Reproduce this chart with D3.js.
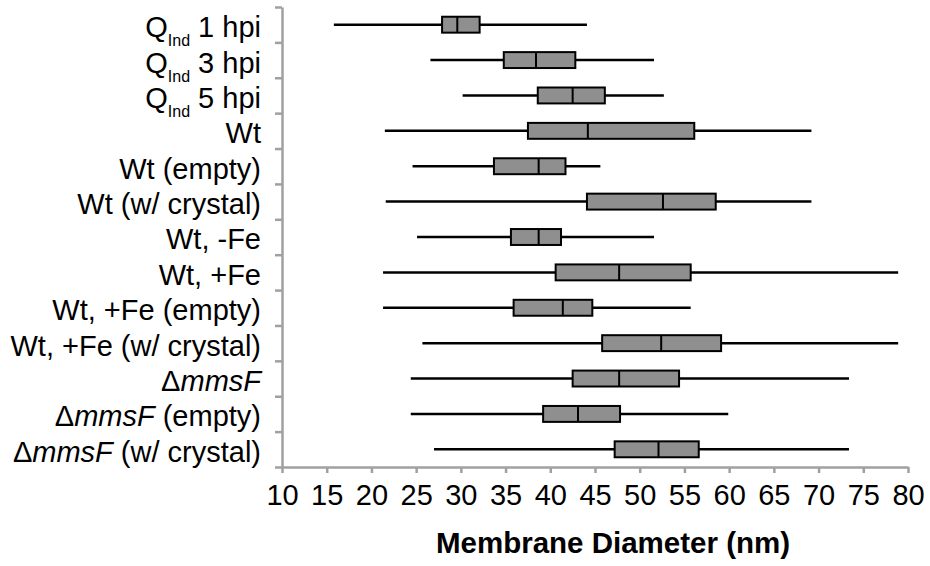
<!DOCTYPE html>
<html>
<head>
<meta charset="utf-8">
<script src="https://cdn.jsdelivr.net/npm/d3@7"></script>
<style>
  body { margin: 0; background: #fff; }
  text { font-family: "Liberation Sans", Arial, Helvetica, sans-serif; white-space: pre; }
</style>
</head>
<body>
<div id="chart"></div>
<script>
// Box plot data (nm)
// "_{..}" = subscript, "*..*" = italic
var categories = [
  "Q_{Ind} 1 hpi", "Q_{Ind} 3 hpi", "Q_{Ind} 5 hpi", "Wt", "Wt (empty)", "Wt (w/ crystal)",
  "Wt, -Fe", "Wt, +Fe", "Wt, +Fe (empty)", "Wt, +Fe (w/ crystal)",
  "Δ*mmsF*", "Δ*mmsF* (empty)", "Δ*mmsF* (w/ crystal)"
];
var whiskerLow  = [15.8, 26.6, 30.2, 21.5, 24.6, 21.6, 25.1, 21.3, 21.3, 25.7, 24.4, 24.4, 27.0];
var q1          = [27.9, 34.8, 38.6, 37.5, 33.7, 44.1, 35.6, 40.6, 35.9, 45.8, 42.5, 39.2, 47.2];
var median      = [29.6, 38.4, 42.5, 44.2, 38.7, 52.6, 38.7, 47.7, 41.4, 52.4, 47.7, 43.1, 52.1];
var q3          = [32.1, 42.8, 46.1, 56.1, 41.7, 58.5, 41.2, 55.7, 44.7, 59.1, 54.4, 47.8, 56.6];
var whiskerHigh = [44.1, 51.6, 52.7, 69.2, 45.6, 69.2, 51.6, 78.9, 55.7, 78.9, 73.4, 59.9, 73.4];
var xTicks = [10, 15, 20, 25, 30, 35, 40, 45, 50, 55, 60, 65, 70, 75, 80];
var xTitle = "Membrane Diameter (nm)";

var svgWidth = 930;
var svgHeight = 566;
var margin = { top: 7, right: 22, bottom: 99, left: 282 };
var width = svgWidth - margin.left - margin.right;
var height = svgHeight - margin.top - margin.bottom;

var svg = d3.select("#chart")
  .append("svg")
  .attr("width", svgWidth)
  .attr("height", svgHeight);

var chartGroup = svg.append("g")
  .attr("transform", `translate(${margin.left}, ${margin.top})`);

var data = categories.map(function(c, i) {
  return { name: c, lo: whiskerLow[i], q1: q1[i], med: median[i], q3: q3[i], hi: whiskerHigh[i] };
});

// scales
var x = d3.scaleLinear().domain([10, 80]).range([0, width]);
var y = d3.scaleBand().domain(categories).range([0, height]).padding(0);
var yEdge = d3.scaleLinear().domain([0, categories.length]).range([0, height]);

var axisColor = "#a0a0a0";

// x axis
var bottomAxis = d3.axisBottom(x).tickValues(xTicks).tickSize(6).tickSizeOuter(0).tickPadding(11);
var xg = chartGroup.append("g")
  .attr("transform", `translate(0, ${height})`)
  .call(bottomAxis);
xg.select(".domain").attr("stroke", axisColor).attr("stroke-width", 2.5);
xg.selectAll(".tick line").attr("stroke", axisColor).attr("stroke-width", 2.5);
xg.selectAll(".tick text")
  .attr("fill", "#000")
  .attr("font-size", 29)
  .attr("font-family", "Liberation Sans, Arial, sans-serif");

// y axis (ticks at category boundaries)
var leftAxis = d3.axisLeft(yEdge).tickValues(d3.range(0, categories.length + 1))
  .tickFormat("").tickSize(7).tickSizeOuter(0);
var yg = chartGroup.append("g").call(leftAxis);
yg.select(".domain").attr("stroke", axisColor).attr("stroke-width", 2.5);
yg.selectAll(".tick line").attr("stroke", axisColor).attr("stroke-width", 2.5);

// category labels with subscripts / italics
function addLabel(textSel, str) {
  var parts = str.split(/(_\{[^}]*\}|\*[^*]*\*)/).filter(function(s) { return s.length; });
  var pending = 0;
  parts.forEach(function(p) {
    var t = textSel.append("tspan");
    if (p.indexOf("_{") === 0) {
      t.attr("font-size", 16).attr("dy", 9).text(p.slice(2, -1));
      pending = -9;
      return;
    }
    if (pending) { t.attr("dy", pending); pending = 0; }
    if (p.charAt(0) === "*") {
      t.attr("font-style", "italic").text(p.slice(1, -1));
    } else {
      t.text(p);
    }
  });
}

chartGroup.selectAll(".catLabel")
  .data(data)
  .enter()
  .append("text")
  .attr("class", "catLabel")
  .attr("x", -21)
  .attr("y", d => y(d.name) + y.bandwidth() / 2)
  .attr("dy", "0.43em")
  .attr("text-anchor", "end")
  .attr("font-size", 29)
  .attr("fill", "#000")
  .each(function(d) { addLabel(d3.select(this), d.name); });

// whiskers
var boxH = y.bandwidth() * 0.45;
chartGroup.selectAll(".whisker")
  .data(data)
  .enter()
  .append("line")
  .attr("class", "whisker")
  .attr("x1", d => x(d.lo))
  .attr("x2", d => x(d.hi))
  .attr("y1", d => y(d.name) + y.bandwidth() / 2)
  .attr("y2", d => y(d.name) + y.bandwidth() / 2)
  .attr("stroke", "#000")
  .attr("stroke-width", 2.5);

// boxes
chartGroup.selectAll(".box")
  .data(data)
  .enter()
  .append("rect")
  .attr("class", "box")
  .attr("x", d => x(d.q1))
  .attr("width", d => x(d.q3) - x(d.q1))
  .attr("y", d => y(d.name) + (y.bandwidth() - boxH) / 2)
  .attr("height", boxH)
  .attr("fill", "#8f8f8f")
  .attr("stroke", "#000")
  .attr("stroke-width", 2);

// medians
chartGroup.selectAll(".median")
  .data(data)
  .enter()
  .append("line")
  .attr("class", "median")
  .attr("x1", d => x(d.med))
  .attr("x2", d => x(d.med))
  .attr("y1", d => y(d.name) + (y.bandwidth() - boxH) / 2)
  .attr("y2", d => y(d.name) + (y.bandwidth() + boxH) / 2)
  .attr("stroke", "#000")
  .attr("stroke-width", 2);

// axis title (sits a bit right of the axis centre in the original)
chartGroup.append("text")
  .attr("x", width / 2 + 18)
  .attr("y", height + 86)
  .attr("text-anchor", "middle")
  .attr("font-size", 29.5)
  .attr("font-weight", "bold")
  .attr("fill", "#000")
  .text(xTitle);
</script>
</body>
</html>
